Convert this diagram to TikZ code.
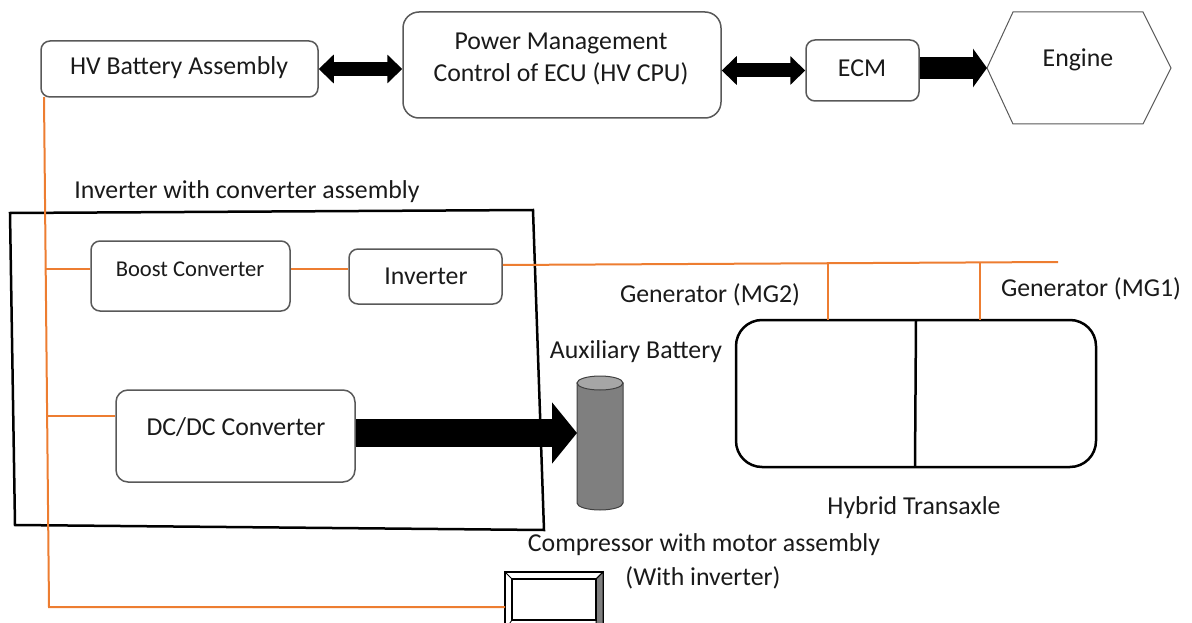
\documentclass[tikz,border=0pt]{standalone}
\usepackage{fontspec}
\setmainfont{Carlito}
\usetikzlibrary{arrows.meta,calc}
\definecolor{org}{HTML}{ED7D31}
\definecolor{boxline}{HTML}{595959}
\definecolor{txt}{HTML}{1A1A1A}
\definecolor{cylbody}{HTML}{7F7F7F}
\definecolor{cyltop}{HTML}{A6A6A6}
\tikzset{
  box/.style={draw=boxline, line width=1.5pt, rounded corners=9pt, fill=white, inner sep=0pt},
  lbl/.style={font=\fontsize{25.8}{32}\selectfont, text=txt, inner sep=0pt},
  slbl/.style={font=\fontsize{22.6}{27}\selectfont, text=txt, inner sep=0pt},
  wire/.style={draw=org, line width=2pt},
  dblarrow/.style={line width=14pt, {Triangle[length=15pt 0 0,width=28pt 0 0]}-{Triangle[length=15pt 0 0,width=28pt 0 0]}},
}
\begin{document}
\begin{tikzpicture}[x=1pt,y=-1pt]
\useasboundingbox (0,0) rectangle (1192,623);

% top row
\node[box, minimum width=277pt, minimum height=56pt] (hv) at (179.5,69) {};
\node[lbl] (hvt) at (179,68) {HV Battery Assembly};
\node[box, rounded corners=16pt, minimum width=318pt, minimum height=106pt, align=center] (pmc) at (562,65) {};
\node[lbl, align=center] (pmct) at (561,59) {Power Management\\Control of ECU (HV CPU)};
\node[box, minimum width=113pt, minimum height=61pt] (ecm) at (862.5,70.5) {};
\node[lbl] (ecmt) at (862,68) {ECM};
\draw[draw=boxline, line width=1pt, fill=white] (987,68) coordinate (engW) -- (1013,12) -- (1143,12) -- (1171,68) -- (1143,124) -- (1013,124) -- cycle;
\node[lbl] (engt) at (1078,60) {Engine};

\draw[dblarrow] (hv.east) -- (pmc.west |- hv.east);
\draw[dblarrow] (pmc.east |- ecm.west) -- (ecm.west);
\draw[line width=22pt, -{Triangle[length=14pt 0 0,width=38pt 0 0]}] (ecm.east |- engW) -- (engW);

% inverter with converter assembly
\node[lbl] (invasm) at (247,192) {Inverter with converter assembly};
\draw[line width=2.5pt, line join=miter] (10,213) coordinate (ra) -- (533,210) -- (544,530) -- (15,525) -- cycle;

\node[box, minimum width=199pt, minimum height=70pt] (boost) at (190.5,276) {};
\node[slbl] (boostt) at (190,269) {Boost Converter};
\node[box, minimum width=153pt, minimum height=55pt] (inv) at (425.5,276.5) {};
\node[lbl] (invt) at (426,276) {Inverter};
\node[box, rounded corners=12pt, minimum width=239pt, minimum height=92pt] (dcdc) at (235.5,436) {};
\node[lbl] (dcdct) at (236,427) {DC/DC Converter};

% auxiliary battery
\node[lbl] (auxt) at (636,352) {Auxiliary Battery};
\filldraw[fill=cylbody, draw=black!75, line width=1pt] (577,383) -- (577,503) arc[start angle=180, end angle=360, x radius=23pt, y radius=7pt] -- (623,383) -- cycle;
\filldraw[fill=cyltop, draw=black!75, line width=1pt] (600,383) ellipse [x radius=23pt, y radius=7pt];
\coordinate (aux) at (577,433);
\draw[line width=28pt, -{Triangle[length=25pt 0 0,width=60pt 0 0]}] (dcdc.east |- aux) -- (aux);

% hybrid transaxle
\draw[line width=2.5pt, rounded corners=26pt] (736,320) rectangle (1096,467);
\draw[line width=2.5pt] (916,320) coordinate (divt) -- (915,467);
\node[lbl] (mg2) at (710,295) {Generator (MG2)};
\node[lbl] (mg1) at (1091,289) {Generator (MG1)};
\node[lbl] (hta) at (914,508) {Hybrid Transaxle};

% compressor
\node[lbl] (compt1) at (704,545) {Compressor with motor assembly};
\node[lbl] (compt2) at (703,578) {(With inverter)};
\filldraw[fill=white, draw=black, line width=1.5pt] (505,572) rectangle (603,630);
\filldraw[fill=cylbody, draw=black, line width=1pt] (603,572) -- (596,579) -- (596,623) -- (603,630) -- cycle;
\filldraw[fill=white, draw=black, line width=1.5pt] (512,579) rectangle (596,620);
\draw[black, line width=0.8pt] (505,572) -- (512,579) (603,572) -- (596,579) (505,630) -- (512,620);
\coordinate (comp) at (505,607);

% orange wiring
\coordinate (busT) at (44,97);
\coordinate (busB) at (49,607);
\coordinate (tapB) at (45.7,269);
\coordinate (tapD) at (47.1,416);
\draw[wire] (busT) -- (busB) -- (comp);
\draw[wire] (tapB) -- (boost.west |- tapB);
\draw[wire] (tapD) -- (dcdc.west |- tapD);
\coordinate (bi) at (0,269);
\draw[wire] (boost.east |- bi) -- (inv.west |- bi);
\coordinate (ir) at (0,265);
\coordinate (busR) at (1058,262);
\draw[wire] (inv.east |- ir) -- (busR);
\coordinate (mg2t) at (828,263.5);
\coordinate (mg1t) at (980,262.5);
\draw[wire] (mg2t) -- (828,320);
\draw[wire] (mg1t) -- (980,320);
\end{tikzpicture}
\end{document}
